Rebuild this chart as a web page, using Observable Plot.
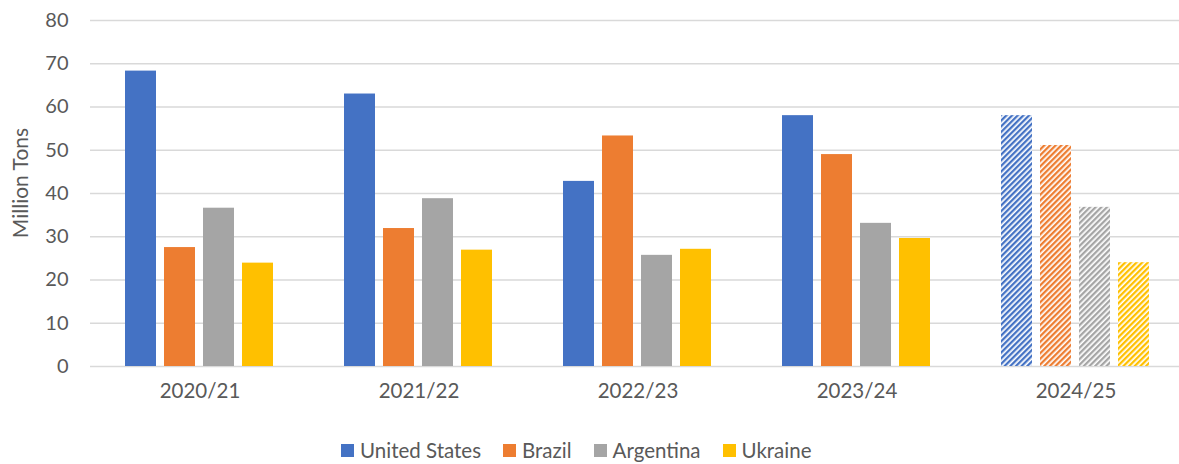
<!DOCTYPE html>
<html><head><meta charset="utf-8">
<script src="https://cdn.jsdelivr.net/npm/d3@7"></script>
<script src="https://cdn.jsdelivr.net/npm/@observablehq/plot@0.6"></script>
<style>
body{margin:0;background:#fff;font-family:Lato,sans-serif;}
#wrap{position:relative;width:1179px;height:464px;overflow:hidden;}
#legend{position:absolute;left:341px;top:440px;display:flex;gap:22px;font-size:20.5px;color:#595959;line-height:20px;white-space:nowrap;}
.item{display:flex;align-items:center;gap:6px}
.sw{width:13px;height:13px;display:inline-block}
#ylabel{position:absolute;left:20px;top:183px;transform:translate(-50%,-50%) rotate(-90deg);font-size:21px;color:#595959;white-space:nowrap;line-height:22px;}
</style></head><body><div id="wrap"><div id="chart"></div><div id="ylabel"></div><div id="legend"></div></div>
<script>
const periods = ["2020/21","2021/22","2022/23","2023/24","2024/25"];
const countries = ["United States","Brazil","Argentina","Ukraine"];
const unitedStates = [68.3, 63.0, 42.8, 58.0, 58.0];
const brazil = [27.5, 31.9, 53.3, 49.0, 51.1];
const argentina = [36.6, 38.8, 25.7, 33.1, 36.8];
const ukraine = [23.9, 26.9, 27.1, 29.6, 24.0];
const forecastPeriod = "2024/25";
const yTicks = [0,10,20,30,40,50,60,70,80];
const yLabel = "Million Tons";
const colors = ["#4472C4","#ED7D31","#A5A5A5","#FFC000"];

const series = [unitedStates, brazil, argentina, ukraine];
const data = [];
periods.forEach((p,i) => countries.forEach((c,j) => data.push({period:p, country:c, value:series[j][i]})));

const fillFor = d => {
  const j = countries.indexOf(d.country);
  return d.period === forecastPeriod ? `url(#hatch${j})` : colors[j];
};

const chart = Plot.plot({
  width:1179, height:425, marginTop:20, marginBottom:59, marginLeft:89, marginRight:0,
  style:{fontFamily:"Lato, sans-serif", background:"white"},
  fx:{domain:periods, range:[89,1186], paddingInner:0, paddingOuter:0},
  x:{domain:countries, paddingInner:0.2, paddingOuter:0.84, axis:null},
  y:{domain:[0,80]},
  color:{type:"identity"},
  marks:[
    Plot.gridY(yTicks, {stroke:"#d9d9d9", strokeOpacity:1, strokeWidth:1.3}),
    Plot.barY(data, {fx:"period", x:"country", y:"value", fill:fillFor}),
    Plot.axisY(yTicks, {tickSize:0, tickPadding:22, fontSize:20, fill:"#595959", label:null}),
    Plot.axisFx({anchor:"bottom", tickSize:0, tickPadding:17, fontSize:20.5, fill:"#595959", label:null})
  ]
});

// upward diagonal stripes for the forecast season
const defs = d3.select(chart).insert("defs", ":first-child");
colors.forEach((c,j) => {
  const p = defs.append("pattern").attr("id", `hatch${j}`).attr("patternUnits","userSpaceOnUse")
    .attr("width",4).attr("height",4).attr("patternTransform","rotate(45)");
  p.append("rect").attr("width",4).attr("height",4).attr("fill","white");
  p.append("rect").attr("width",2.3).attr("height",4).attr("fill",c);
});
document.getElementById("chart").appendChild(chart);
document.getElementById("ylabel").textContent = yLabel;

const legend = d3.select("#legend");
countries.forEach((c,j) => {
  const it = legend.append("div").attr("class","item");
  it.append("span").attr("class","sw").style("background",colors[j]);
  it.append("span").text(c);
});
</script>
</body></html>
